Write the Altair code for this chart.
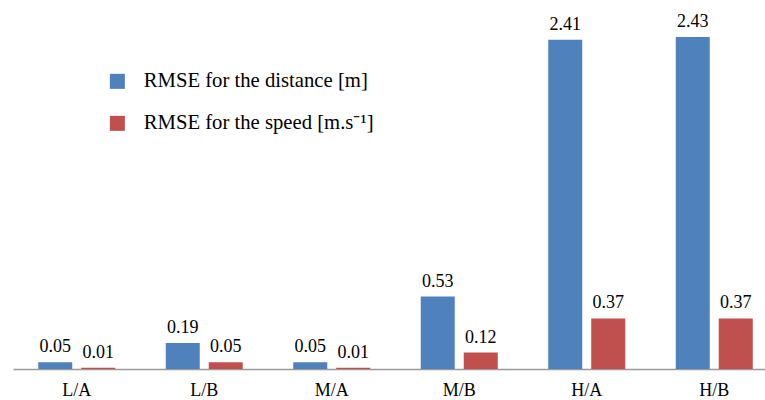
import altair as alt
import pandas as pd

categories = ["L/A", "L/B", "M/A", "M/B", "H/A", "H/B"]
distance = [0.05, 0.19, 0.05, 0.53, 2.41, 2.43]
speed = [0.01, 0.05, 0.01, 0.12, 0.37, 0.37]
series = ["RMSE for the distance [m]", "RMSE for the speed [m.s\u207b\u00b9]"]
colors = ["#4F81BD", "#C0504D"]

rows = []
for c, d, s in zip(categories, distance, speed):
    rows.append({"cat": c, "series": series[0], "value": d})
    rows.append({"cat": c, "series": series[1], "value": s})
df = pd.DataFrame(rows)

FONT = "Liberation Serif"

x = alt.X("cat:N", sort=categories, title=None,
          scale=alt.Scale(range=[0, 765], paddingInner=0.396, paddingOuter=0.198),
          axis=alt.Axis(labelAngle=0, labelFont=FONT, labelFontSize=18, labelColor="#000000",
                        ticks=False, domainColor="#9A9A9A", domainWidth=1.5, labelPadding=12,
                        grid=False))
xo = alt.XOffset("series:N", sort=series, scale=alt.Scale(paddingInner=0.209, paddingOuter=0))
y = alt.Y("value:Q", scale=alt.Scale(domain=[0, 2.7], nice=False), axis=None)

bars = alt.Chart(df).mark_bar().encode(
    x=x, xOffset=xo, y=y,
    color=alt.Color("series:N", sort=series,
                    scale=alt.Scale(domain=series, range=colors),
                    legend=alt.Legend(title=None, orient="none", legendX=94, legendY=71,
                                      symbolType="square", symbolSize=225, symbolStrokeWidth=0,
                                      labelFont=FONT, labelFontSize=20.7, labelColor="#000000",
                                      labelOffset=16, rowPadding=20, padding=0,
                                      labelLimit=400)),
)

labels = alt.Chart(df).mark_text(font=FONT, fontSize=18, color="#000000",
                                  baseline="alphabetic", dy=-10).encode(
    x=x, xOffset=xo, y=y,
    text=alt.Text("value:Q", format=".2f"),
)

chart = alt.layer(bars, labels).properties(
    width=752, height=369,
    autosize=alt.AutoSizeParams(type="none"),
    padding={"left": 13, "top": 0, "right": 0, "bottom": 31},
    background="#ffffff",
).configure_view(stroke=None)

chart.save("out.html", embed_options={"renderer": "svg", "actions": False})
